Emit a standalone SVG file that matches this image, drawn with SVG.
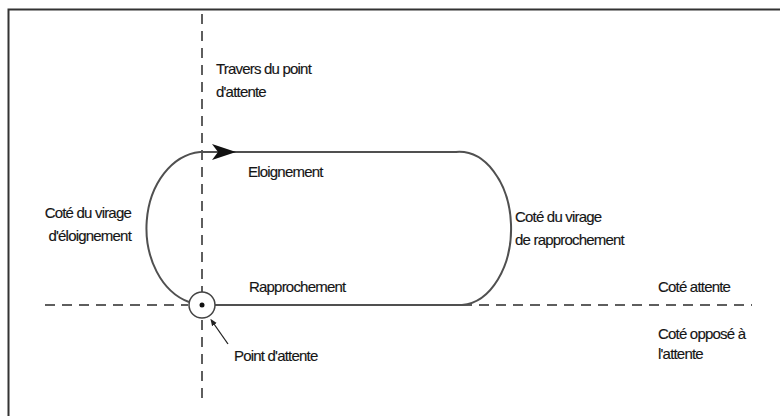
<svg xmlns="http://www.w3.org/2000/svg" width="780" height="416" viewBox="0 0 780 416">
<defs>
<style>
.t{font-family:"Liberation Sans",Arial,sans-serif;font-size:15px;fill:#151515;letter-spacing:-0.8px;stroke:#151515;stroke-width:0.15}
.track{fill:none;stroke:#505050;stroke-width:2}
.dash{fill:none;stroke:#2a2a2a;stroke-width:1.5;stroke-dasharray:10 7}
</style>
<marker id="lead" viewBox="0 0 10 10" refX="1" refY="5" markerWidth="7" markerHeight="7" orient="auto-start-reverse" markerUnits="userSpaceOnUse">
<path d="M0,1 L10,5 L0,9 Z" fill="#222"/>
</marker>
</defs>
<rect x="0" y="0" width="780" height="416" fill="#fff"/>
<rect x="8.5" y="9.5" width="800" height="430" fill="none" stroke="#333" stroke-width="2"/>
<g id="connectors">
<line class="dash" x1="202" y1="14" x2="202" y2="400"/>
<line class="dash" x1="45" y1="305" x2="188" y2="305"/>
<line class="dash" x1="462" y1="305" x2="752" y2="305"/>
<path class="track" d="M200,152 L456,152 A52,76.5 0 0 1 462,305 L215,305"/>
<path class="track" d="M200,152 A58,76.5 0 0 0 189,302"/>
<path d="M212,144 L236,152 L212,160 L218,152 Z" fill="#111"/>
<line x1="228" y1="344" x2="214" y2="324" stroke="#222" stroke-width="1.3" marker-end="url(#lead)"/>
</g>
<g id="holding-point">
<circle cx="202" cy="305" r="13" fill="#fff" stroke="#444" stroke-width="1.5"/>
<circle cx="202" cy="305" r="2.5" fill="#111"/>
</g>
<g id="labels">
<text class="t" x="216" y="74">Travers du point</text>
<text class="t" x="216" y="97">d'attente</text>
<text class="t" x="248" y="177">Eloignement</text>
<text class="t" x="131" y="218" text-anchor="end">Coté du virage</text>
<text class="t" x="131" y="241" text-anchor="end">d'éloignement</text>
<text class="t" x="515" y="222">Coté du virage</text>
<text class="t" x="515" y="245">de rapprochement</text>
<text class="t" x="249" y="292">Rapprochement</text>
<text class="t" x="234" y="361">Point d'attente</text>
<text class="t" x="658" y="292">Coté attente</text>
<text class="t" x="658" y="339">Coté opposé à</text>
<text class="t" x="658" y="359">l'attente</text>
</g>
</svg>
